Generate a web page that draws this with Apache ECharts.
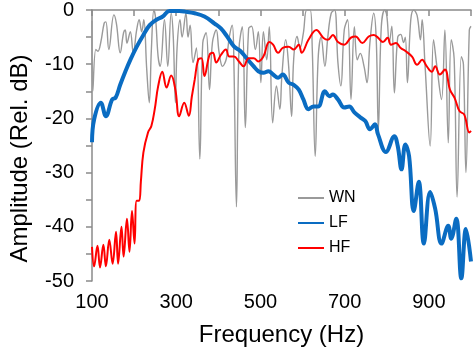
<!DOCTYPE html>
<html>
<head>
<meta charset="utf-8">
<script src="https://cdn.jsdelivr.net/npm/echarts@6/dist/echarts.min.js"></script>
<style>
html,body{margin:0;padding:0;background:#fff;}
#c{width:474px;height:352px;}
</style>
</head>
<body>
<div id="c"></div>
<script>
const seriesNames = ['WN', 'LF', 'HF'];
const xTickLabels = [100, 300, 500, 700, 900];

const wnFreq = [100,102,109,114,121,129,133,140,152,158,167,175,179,183,191,198,206,212,218,223,230,236,241,247,251,257,262,272,280,288,293,298,302,309,314,323,328,333,340,348,356,363,371,379,386,395,402,410,419,426,433,437,443,449,457,464,472,479,488,495,501,507,515,521,529,538,546,551,560,567,574,579,587,594,602,610,618,623,630,637,644,653,660,668,676,684,691,699,707,715,723,730,737,746,753,760,769,775,780,787,795,800,806,812,818,826,833,840,844,849,857,864,872,880,884,891,903,911,919,930,938,946,953,960,967,977,982,988,996,1000];
const wnAmp = [-2,-15,-7.3,-7.6,-5.9,-2.4,-2.2,-7.3,-0.9,-2.5,-7.9,-4.2,-3.7,-6.1,-4,-7.9,-3.7,-1.8,-4,-1.8,-11,-17.1,-7.3,0,-1.5,-8.6,-10.4,-1.8,-10.4,-0.6,-5,-17.1,-7,-1.8,-5,-0.6,-5,-2.8,-9.7,-7,-27.5,-6.1,-4.2,-14.7,-6,-3.7,-7.9,-10.4,-9,-5,-2.8,-10,-36.3,-7.3,-3.1,-21.7,-3.4,-3,-7.3,-4,-13.4,-4,-9.2,-3.1,-20.8,-14,-18.3,-12,-5.5,-10.4,-19.6,-9,-4.9,-7,-4.2,0,0,-7,-27,-9,-5,-10.4,-5,-0.6,0,-9.7,-14,-3.7,-1.8,-16.5,-3.1,-9.2,-8,-10.4,-13.4,-6,-0.6,-5.5,-22,-3.1,0,-1,-6,-3,-15.3,-5,-4.5,-6,-5,-13.4,-1.8,0,-1,-5.5,-1.8,-10.4,-25.1,-5.5,-10.4,-16.5,-3.7,-24.5,-5.5,-9,-34.5,-8.6,-10,-30,-3.7,-3];

const lfFreq = [100,105,121,133,148,156,167,179,191,206,222,237,253,268,284,307,321,344,367,391,406,421,437,453,467,484,495,507,519,530,542,553,567,579,591,602,614,626,637,653,664,672,684,699,711,723,737,749,760,772,779,798,818,826,835,844,853,864,876,888,903,915,930,946,953,965,977,988,1000];
const lfAmp = [-24.4,-20.2,-17.1,-19.6,-16.5,-16.2,-13.8,-11.4,-9.2,-6.8,-4.6,-2.8,-1.8,-1.2,-0.2,-0.2,-0.3,-0.6,-1.2,-2.5,-3.4,-4.9,-6.7,-7.6,-8.9,-10.4,-11.3,-11.6,-11.3,-11.9,-12.5,-11.9,-13.4,-13.8,-14.7,-16.5,-18.3,-17.8,-17.8,-15.0,-15.9,-15.6,-16.5,-18.0,-17.8,-18.9,-19.8,-20.5,-22,-21.1,-22.9,-26.2,-23.3,-25.1,-29.4,-24.8,-27.0,-37.1,-31.7,-43.1,-33.6,-36.7,-43.1,-39.8,-42.2,-38.5,-49.5,-40.4,-46.4];

const hfFreq = [100,105,113,119,127,133,141,149,157,162,170,175,183,189,195,201,206,212,216,222,233,241,249,257,267,277,288,298,307,319,330,337,344,352,360,367,379,387,395,406,418,426,437,449,460,472,484,495,507,521,530,542,553,567,579,591,598,614,633,649,660,672,684,699,715,726,742,757,769,779,791,802,810,822,833,845,860,872,884,895,907,915,926,938,950,961,973,984,996,1000];
const hfAmp = [-43.7,-47.3,-43.5,-47.5,-43.3,-47.3,-42.4,-46.8,-40.9,-46.8,-40,-45.5,-38.5,-44.6,-37.1,-43.1,-35.2,-35.2,-31.7,-26.3,-22.6,-21.4,-18.3,-14.1,-11.4,-14.3,-12.1,-14.7,-19.6,-17.1,-19.5,-16,-12.8,-9.2,-8.9,-12.2,-8.3,-7.9,-9.7,-8.3,-7.3,-8.6,-8.6,-9.5,-10.4,-8.9,-8.9,-9.5,-8.6,-5.9,-6.4,-7.9,-7,-6.8,-7.3,-6.4,-7.9,-5.5,-3.7,-5.1,-5.5,-4.6,-5.9,-6.4,-5.1,-4.9,-6.1,-4.9,-4.6,-5.1,-5.9,-5.1,-6.4,-6.1,-7,-7.6,-8.6,-10.1,-9.2,-10.4,-11.4,-10.4,-11.9,-11,-14.7,-16.2,-18.7,-19.3,-22.6,-22.3];

function pairs(xs, ys) { return xs.map((x, i) => [x, ys[i]]); }

const FONT = '"Liberation Sans", Arial, sans-serif';
const axisGray = '#8a8a8a';

const chart = echarts.init(document.getElementById('c'), null, {renderer: 'canvas'});
chart.setOption({
  animation: false,
  backgroundColor: '#ffffff',
  grid: {left: 85, right: 2, top: 10, bottom: 69, containLabel: false},
  legend: {
    orient: 'vertical',
    left: 292,
    top: 185,
    itemWidth: 26,
    itemHeight: 14,
    itemGap: 9,
    itemStyle: {opacity: 0},
    textStyle: {fontSize: 16, color: '#000', fontFamily: FONT},
    data: seriesNames
  },
  xAxis: {
    type: 'value',
    min: 100, max: 1000, interval: 100,
    name: 'Frequency (Hz)',
    nameLocation: 'middle',
    nameGap: 42,
    nameTextStyle: {fontSize: 24, color: '#000', fontFamily: FONT},
    axisLine: {lineStyle: {color: axisGray, width: 1.5}},
    axisTick: {show: true, inside: false, length: 6, lineStyle: {color: axisGray, width: 1.5}},
    axisLabel: {
      fontSize: 20, color: '#000', fontFamily: FONT, margin: 11,
      formatter: v => xTickLabels.includes(v) ? String(v) : ''
    },
    splitLine: {show: false}
  },
  yAxis: {
    type: 'value',
    min: -50, max: 0, interval: 5,
    name: 'Amplitude (Rel. dB)',
    nameLocation: 'middle',
    nameGap: 60,
    nameRotate: 90,
    nameTextStyle: {fontSize: 24, color: '#000', fontFamily: FONT, padding: [0, 26, 0, 0]},
    axisLine: {show: true, lineStyle: {color: axisGray, width: 1.5}},
    axisTick: {show: true, inside: false, length: 6, lineStyle: {color: axisGray, width: 1.5}},
    axisLabel: {
      fontSize: 20, color: '#000', fontFamily: FONT, margin: 18,
      formatter: v => (v % 10 === 0) ? String(v) : ''
    },
    splitLine: {show: false}
  },
  series: [
    {
      name: 'WN', type: 'line', symbol: 'none', smooth: 0.4,
      data: pairs(wnFreq, wnAmp),
      lineStyle: {color: '#9a9a9a', width: 1.4},
      itemStyle: {color: '#9a9a9a'},
      z: 2
    },
    {
      name: 'LF', type: 'line', symbol: 'none', smooth: 0.4,
      data: pairs(lfFreq, lfAmp),
      lineStyle: {color: '#0a6cc2', width: 4},
      itemStyle: {color: '#0a6cc2'},
      z: 3
    },
    {
      name: 'HF', type: 'line', symbol: 'none', smooth: 0.4,
      data: pairs(hfFreq, hfAmp),
      lineStyle: {color: '#ff0000', width: 2},
      itemStyle: {color: '#ff0000'},
      z: 4
    }
  ]
});
</script>
</body>
</html>
